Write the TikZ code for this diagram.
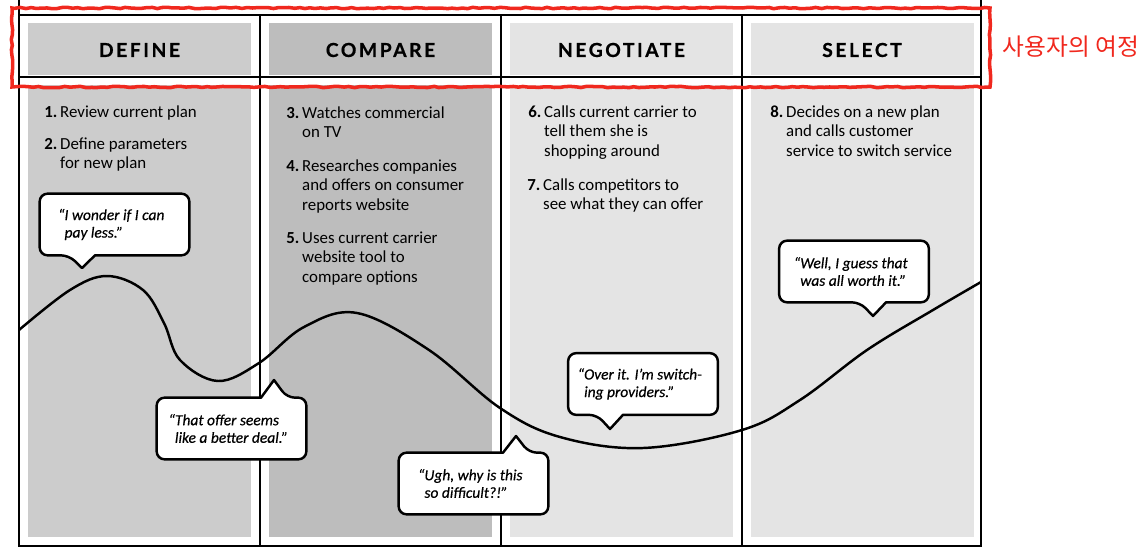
\documentclass[tikz,border=0pt]{standalone}
\usepackage{fontspec}
\setmainfont{Carlito}
\newfontfamily\headfont{Lato}[LetterSpace=13, FakeBold=0.6]
\newfontfamily\sayfont{Carlito}[FakeBold=0.5]
\newfontfamily\krfont{Noto Sans CJK KR}
\usetikzlibrary{positioning,decorations.pathmorphing}
\definecolor{definegray}{HTML}{CCCCCC}
\definecolor{comparegray}{HTML}{BDBDBD}
\definecolor{lightgray}{HTML}{E4E4E4}
\definecolor{markred}{HTML}{F0281E}

\begin{document}
\begin{tikzpicture}[x=0.02cm, y=-0.02cm,
	frameline/.style={line width=1.4pt},
	header/.style={font=\headfont\bfseries\fontsize{11}{13}\selectfont},
	stepnode/.style={anchor=base west, inner sep=0pt, font=\fontsize{9.6}{11.3}\selectfont},
	bubblebox/.style={rectangle, minimum width=2.98cm, minimum height=1.22cm, inner sep=0pt},
	bubbleline/.style={draw, fill=white, line width=1.4pt, line join=round},
	saying/.style={align=left, inner sep=0pt, font=\sayfont\itshape\fontsize{8.8}{10}\selectfont},
	journey/.style={line width=1.4pt}]
	\useasboundingbox (0,0) rectangle (1145,548);
	% column panels
	\foreach \c/\col in {0/definegray,1/comparegray,2/lightgray,3/lightgray} {
		\fill[\col] ({28+241*\c},23) rectangle ({251+241*\c},75);
		\fill[\col] ({28+241*\c},85) rectangle ({251+241*\c},537);
	}
	\draw[frameline] (19,0) -- (19,546) -- (981,546) -- (981,0);
	\draw[frameline] (19,15) -- (981,15);
	\draw[frameline] (19,77) -- (981,77);
	\foreach \x in {260,501,742} \draw[frameline] (\x,15) -- (\x,546);
	
	\node[header] (define) at (139.5,50) {DEFINE};
	\node[header] (compare) at (380.5,50) {COMPARE};
	\node[header] (negotiate) at (621.5,50) {NEGOTIATE};
	\node[header] (select) at (862,50) {SELECT};
	
	\draw[markred, line width=2pt, decorate, decoration={random steps, segment length=3pt, amplitude=0.4pt}] (12,8) rectangle (990,87);
	\node[font=\krfont\fontsize{13.5}{16}\selectfont, text=markred] (journeylabel) at (1071,47) {사용자의 여정};
	
	\node[stepnode] (s1) at (44,117) {\textbf{1.}\,Review current plan};
	\node[stepnode] (s2) at (44,149) {\textbf{2.}\,\begin{tabular}[t]{@{}l@{}}Define parameters\\for new plan\end{tabular}};
	\node[stepnode] (s3) at (286,118) {\textbf{3.}\,\begin{tabular}[t]{@{}l@{}}Watches commercial\\on TV\end{tabular}};
	\node[stepnode] (s4) at (286,171) {\textbf{4.}\,\begin{tabular}[t]{@{}l@{}}Researches companies\\and offers on consumer\\reports website\end{tabular}};
	\node[stepnode] (s5) at (286,243) {\textbf{5.}\,\begin{tabular}[t]{@{}l@{}}Uses current carrier\\website tool to\\compare options\end{tabular}};
	\node[stepnode] (s6) at (528,117) {\textbf{6.}\,\begin{tabular}[t]{@{}l@{}}Calls current carrier to\\tell them she is\\shopping around\end{tabular}};
	\node[stepnode] (s7) at (527,190) {\textbf{7.}\,\begin{tabular}[t]{@{}l@{}}Calls competitors to\\see what they can offer\end{tabular}};
	\node[stepnode] (s8) at (770,117) {\textbf{8.}\,\begin{tabular}[t]{@{}l@{}}Decides on a new plan\\and calls customer\\service to switch service\end{tabular}};
	
	% the emotional line
	\draw[journey] plot[smooth, tension=0.6] coordinates {(19,330) (70,290) (107,276) (143,290) (164,323) (180,360) (218,381) (259,363) (304,327) (357,313) (429,350) (500,408) (560,437) (643,448) (742,430) (800,400) (867,350) (933,310) (981,282)};
	
	\node[bubblebox] (b1) at (114.5,224.5) {};
	\coordinate (t1) at (82,268);
	\draw[bubbleline] ([xshift=0.26cm]t1 |- b1.south) [rounded corners=4.5pt] -- (b1.south east) -- (b1.north east) -- (b1.north west) -- (b1.south west) -- ([xshift=-0.26cm]t1 |- b1.south) [sharp corners] -- (t1) -- cycle;
	\node[saying] (q1) at (b1) {\llap{“}I wonder if I can\\pay less.”};
	
	\node[bubblebox] (b2) at (231.5,428.5) {};
	\coordinate (t2) at (274,380);
	\draw[bubbleline] ([xshift=-0.26cm]t2 |- b2.north) [rounded corners=4.5pt] -- (b2.north west) -- (b2.south west) -- (b2.south east) -- (b2.north east) -- ([xshift=0.26cm]t2 |- b2.north) [sharp corners] -- (t2) -- cycle;
	\node[saying] (q2) at (b2) {\llap{“}That offer seems\\like a better deal.”};
	
	\node[bubblebox] (b3) at (473.5,483.5) {};
	\coordinate (t3) at (516,436);
	\draw[bubbleline] ([xshift=-0.26cm]t3 |- b3.north) [rounded corners=4.5pt] -- (b3.north west) -- (b3.south west) -- (b3.south east) -- (b3.north east) -- ([xshift=0.26cm]t3 |- b3.north) [sharp corners] -- (t3) -- cycle;
	\node[saying] (q3) at (b3) {\llap{“}Ugh, why is this\\so difficult?!”};
	
	\node[bubblebox] (b4) at (643,384) {};
	\coordinate (t4) at (610,429);
	\draw[bubbleline] ([xshift=0.26cm]t4 |- b4.south) [rounded corners=4.5pt] -- (b4.south east) -- (b4.north east) -- (b4.north west) -- (b4.south west) -- ([xshift=-0.26cm]t4 |- b4.south) [sharp corners] -- (t4) -- cycle;
	\node[saying] (q4) at (b4) {\llap{“}Over it. I’m switch-\\ing providers.”};
	
	\node[bubblebox] (b5) at (854,271.5) {};
	\coordinate (t5) at (873,316);
	\draw[bubbleline] ([xshift=0.26cm]t5 |- b5.south) [rounded corners=4.5pt] -- (b5.south east) -- (b5.north east) -- (b5.north west) -- (b5.south west) -- ([xshift=-0.26cm]t5 |- b5.south) [sharp corners] -- (t5) -- cycle;
	\node[saying] (q5) at (b5) {\llap{“}Well, I guess that\\was all worth it.”};
	
\end{tikzpicture}
\end{document}
